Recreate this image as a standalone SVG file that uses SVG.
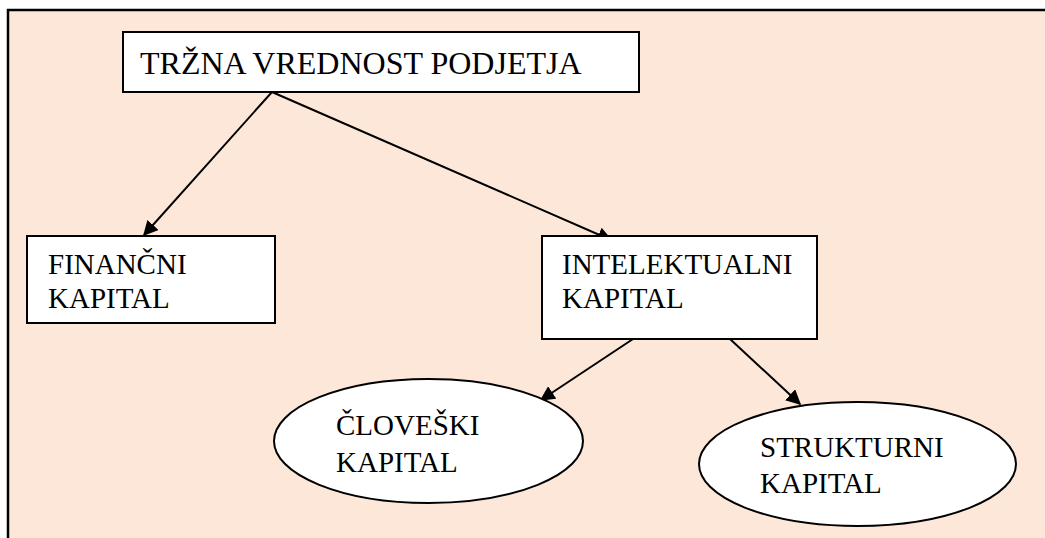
<svg xmlns="http://www.w3.org/2000/svg" width="1045" height="538" viewBox="0 0 1045 538">
  <defs>
    <style>
      .node { fill: #ffffff; stroke: #000000; stroke-width: 2; }
      text { font-family: 'Liberation Serif', 'Times New Roman', serif; font-size: 29px; fill: #000000; }
      .title { font-size: 32px; }
      .edge { stroke: #000000; stroke-width: 2; fill: none; marker-end: url(#arrow); }
    </style>
    <marker id="arrow" viewBox="0 0 10 10" refX="9" refY="5" markerWidth="7.5" markerHeight="7.5" markerUnits="strokeWidth" orient="auto">
      <path d="M0,0 L10,5 L0,10 Z" fill="#000000"/>
    </marker>
  </defs>

  <!-- page and frame -->
  <rect x="0" y="0" width="1045" height="538" fill="#ffffff"/>
  <rect x="8" y="10" width="1037" height="528" fill="#fce7d8"/>
  <path d="M8,538 V10 H1045" fill="none" stroke="#000000" stroke-width="2.5"/>

  <!-- connectors (drawn beneath the nodes) -->
  <g id="connectors">
    <line class="edge" x1="272" y1="92" x2="144" y2="235"/>
    <line class="edge" x1="272" y1="92" x2="611" y2="240"/>
    <line class="edge" x1="633" y1="339" x2="541" y2="400"/>
    <line class="edge" x1="730" y1="339" x2="800" y2="404"/>
  </g>

  <g id="trzna-vrednost">
    <rect class="node" x="123" y="32" width="516" height="60"/>
    <text class="title" x="140" y="74">TRŽNA VREDNOST PODJETJA</text>
  </g>

  <g id="financni-kapital">
    <rect class="node" x="27" y="236" width="248" height="87"/>
    <text x="48" y="274">FINANČNI</text>
    <text x="48" y="308">KAPITAL</text>
  </g>

  <g id="intelektualni-kapital">
    <rect class="node" x="542" y="236" width="275" height="103"/>
    <text x="562" y="274">INTELEKTUALNI</text>
    <text x="562" y="308">KAPITAL</text>
  </g>

  <g id="cloveski-kapital">
    <ellipse class="node" cx="428.5" cy="441" rx="154.5" ry="62"/>
    <text x="336" y="435">ČLOVEŠKI</text>
    <text x="336" y="472">KAPITAL</text>
  </g>

  <g id="strukturni-kapital">
    <ellipse class="node" cx="857.5" cy="464" rx="158.5" ry="62"/>
    <text x="760" y="457">STRUKTURNI</text>
    <text x="760" y="493">KAPITAL</text>
  </g>
</svg>
